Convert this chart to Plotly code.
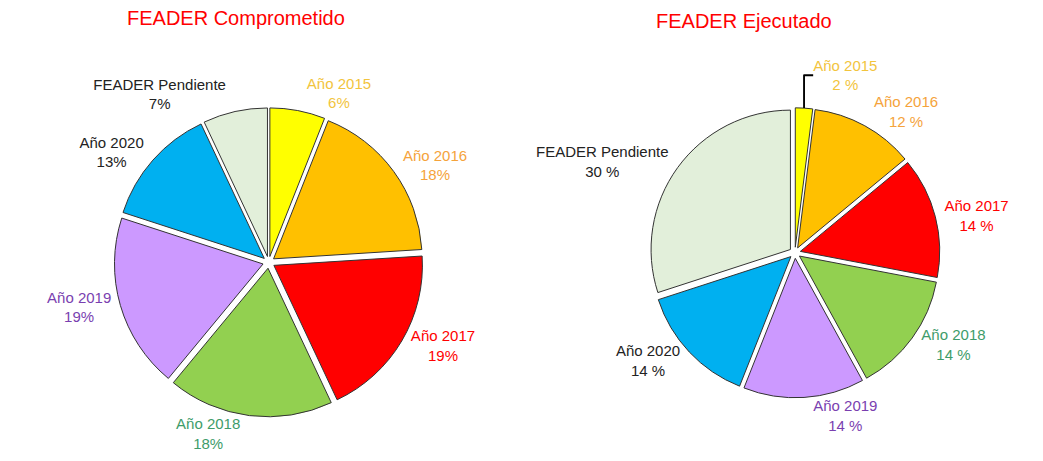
import plotly.graph_objects as go

# slices, clockwise from 12 o'clock
labels = ["Año 2015", "Año 2016", "Año 2017", "Año 2018", "Año 2019", "Año 2020", "FEADER Pendiente"]
comprometido = [6, 18, 19, 18, 19, 13, 7]
ejecutado = [2, 12, 14, 14, 14, 14, 30]

slice_colors = ["#FFFF00", "#FFC000", "#FF0000", "#92D050", "#CC99FF", "#00B0F0", "#E2EFDA"]
text_colors = ["#F2C43D", "#F5A33B", "#FF0000", "#3E9C6A", "#7A3FB0", "#222222", "#222222"]

FONT = "Liberation Sans, Arial, sans-serif"

fig = go.Figure()

fig.add_trace(go.Pie(labels=labels, values=comprometido, sort=False, direction="clockwise",
                     rotation=0, pull=0.04, textposition="outside",
                     texttemplate="%{label}<br>%{value}%",
                     textfont=dict(family=FONT, size=15, color=text_colors),
                     marker=dict(colors=slice_colors, line=dict(color="#333333", width=1)),
                     domain=dict(x=[0.093, 0.407], y=[0.058, 0.770]),
                     showlegend=False, hoverinfo="label+value"))

fig.add_trace(go.Pie(labels=labels, values=ejecutado, sort=False, direction="clockwise",
                     rotation=0, pull=0.04, textposition="outside",
                     texttemplate="%{label}<br>%{value} %",
                     textfont=dict(family=FONT, size=15, color=text_colors),
                     marker=dict(colors=slice_colors, line=dict(color="#333333", width=1)),
                     domain=dict(x=[0.607, 0.902], y=[0.102, 0.770]),
                     showlegend=False, hoverinfo="label+value"))

fig.update_layout(width=1043, height=461, margin=dict(l=0, r=0, t=0, b=0),
                  paper_bgcolor="white", plot_bgcolor="white",
                  font=dict(family=FONT),
                  annotations=[
                      dict(text="FEADER Comprometido", x=0.219, y=0.978, xref="paper", yref="paper",
                           xanchor="center", yanchor="middle", showarrow=False,
                           font=dict(size=20, color="#FF0000", family=FONT)),
                      dict(text="FEADER Ejecutado", x=0.706, y=0.971, xref="paper", yref="paper",
                           xanchor="center", yanchor="middle", showarrow=False,
                           font=dict(size=20, color="#FF0000", family=FONT)),
                  ])

fig.write_html("out.html")
